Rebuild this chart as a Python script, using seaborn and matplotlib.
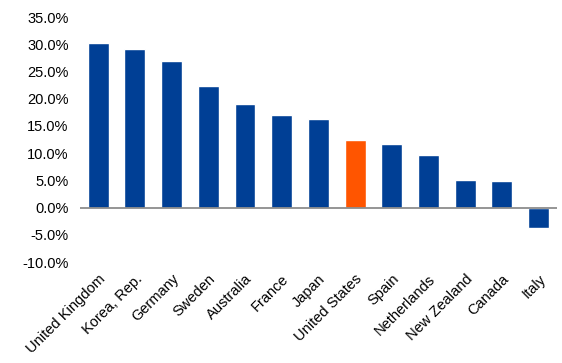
import matplotlib
matplotlib.use("Agg")
import matplotlib.pyplot as plt
import seaborn as sns
import pandas as pd
from matplotlib.ticker import FuncFormatter

countries = ["United Kingdom", "Korea, Rep.", "Germany", "Sweden", "Australia", "France",
             "Japan", "United States", "Spain", "Netherlands", "New Zealand", "Canada", "Italy"]
values = [30.2, 29.1, 26.9, 22.4, 19.1, 17.1, 16.3, 12.5, 11.6, 9.7, 5.0, 4.8, -3.8]
highlight = "United States"

sns.set_style("white")
plt.rcParams['font.family'] = ['Liberation Sans', 'DejaVu Sans']

df = pd.DataFrame({"country": countries, "value": values})
palette = {c: ("#FF5500" if c == highlight else "#003F95") for c in countries}

fig = plt.figure(figsize=(5.62, 3.63), dpi=100)
ax = fig.add_axes([0.142, 0.278, 0.849, 0.675])
sns.barplot(data=df, x="country", y="value", hue="country", palette=palette,
            width=0.57, saturation=1, legend=False, ax=ax)

ax.set_ylim(-10, 35)
ax.set_yticks([-10, -5, 0, 5, 10, 15, 20, 25, 30, 35])
ax.yaxis.set_major_formatter(FuncFormatter(lambda v, p: f"{v:.1f}%"))
ax.axhline(0, color="#8c8c8c", lw=1.3, zorder=5)
for s in ax.spines.values():
    s.set_visible(False)
ax.set_xlabel("")
ax.set_ylabel("")
ax.tick_params(axis="both", length=0, labelsize=10.5, colors="black")
ax.tick_params(axis="y", pad=8)
ax.tick_params(axis="x", pad=7)
plt.setp(ax.get_xticklabels(), rotation=45, ha="right", rotation_mode="anchor")
ax.set_xlim(-0.5, len(countries) - 0.5)

fig.savefig("out.png", dpi=100)
